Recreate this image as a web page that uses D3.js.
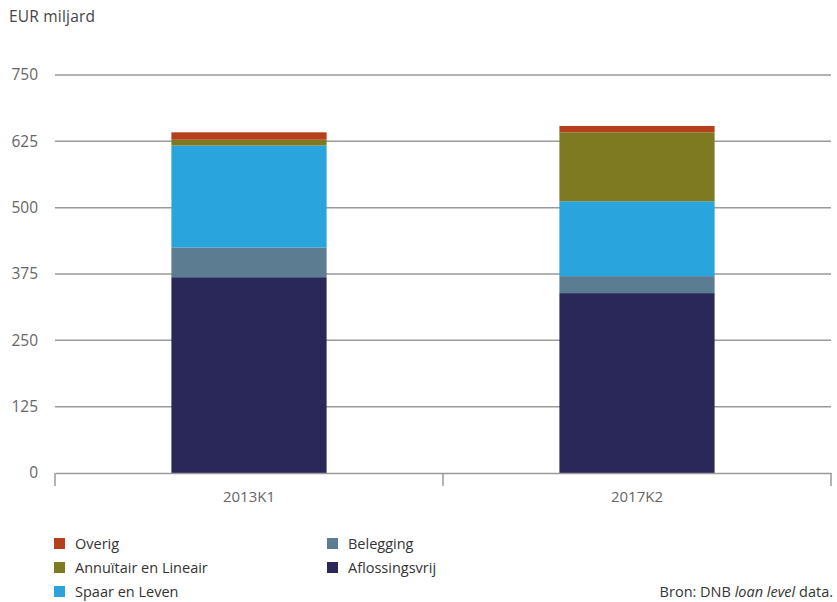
<!DOCTYPE html>
<html>
<head>
<meta charset="utf-8">
<script src="https://cdn.jsdelivr.net/npm/d3@7"></script>
<style>
  body { margin: 0; background: #fff; }
  text { font-family: "Open Sans", "Noto Sans", sans-serif; }
</style>
</head>
<body>
<script>
'use-strict';

// categories on the x axis
let periods = ["2013K1", "2017K2"];

// series, stacked from the bottom up
let seriesNames = ["Aflossingsvrij", "Belegging", "Spaar en Leven", "Annuïtair en Lineair", "Overig"];
let aflossingsvrij = [369, 339];
let belegging = [56, 32];
let spaarLeven = [192, 141];
let annuitair = [11, 130];
let overig = [14, 12];

// y axis ticks
let yTicks = [0, 125, 250, 375, 500, 625, 750];

let colors = {
  "Overig": "#b6401c",
  "Annuïtair en Lineair": "#7e7a22",
  "Spaar en Leven": "#29a4dd",
  "Belegging": "#5b7c91",
  "Aflossingsvrij": "#2a2859"
};

// legend layout: column order as in the picture
let legendItems = [
  ["Overig", 0, 0], ["Annuïtair en Lineair", 0, 1], ["Spaar en Leven", 0, 2],
  ["Belegging", 1, 0], ["Aflossingsvrij", 1, 1]
];

let margin = { top: 75, left: 55, bottom: 129, right: 6 };
let width = 837 - margin.left - margin.right,
  height = 602 - margin.top - margin.bottom;

let svg = d3.select("body")
  .append("svg")
  .attr("width", 837)
  .attr("height", 602);

// build rows for the stack
let rows = periods.map((p, i) => ({
  period: p,
  "Aflossingsvrij": aflossingsvrij[i],
  "Belegging": belegging[i],
  "Spaar en Leven": spaarLeven[i],
  "Annuïtair en Lineair": annuitair[i],
  "Overig": overig[i]
}));
let stacked = d3.stack().keys(seriesNames)(rows);

let xScale = d3.scaleBand()
  .domain(periods)
  .range([margin.left, margin.left + width])
  .paddingInner(0.6)
  .paddingOuter(0.3);

// band edges for the category ticks
let xEdges = d3.scaleBand()
  .domain(periods)
  .range([margin.left, margin.left + width]);

let yScale = d3.scaleLinear()
  .domain([0, 750])
  .range([margin.top + height, margin.top]);

// unit label
svg.append("text")
  .attr("x", 9)
  .attr("y", 22)
  .attr("fill", "#444")
  .style("font-size", "15.5px")
  .style("letter-spacing", "0.2px")
  .text("EUR miljard");

// gridlines
svg.append("g")
  .selectAll("line")
  .data(yTicks.filter(d => d > 0))
  .enter()
  .append("line")
  .attr("x1", margin.left)
  .attr("x2", margin.left + width)
  .attr("y1", d => yScale(d))
  .attr("y2", d => yScale(d))
  .attr("stroke", "#9a9a9a")
  .attr("stroke-width", 1.5);

// y labels
svg.append("g")
  .selectAll("text")
  .data(yTicks)
  .enter()
  .append("text")
  .attr("x", 38)
  .attr("y", d => yScale(d))
  .attr("dy", "0.35em")
  .attr("text-anchor", "end")
  .attr("fill", "#666")
  .style("font-size", "15.5px")
  .text(d => d);

// bars
svg.append("g")
  .selectAll("g")
  .data(stacked)
  .enter()
  .append("g")
  .attr("fill", d => colors[d.key])
  .selectAll("rect")
  .data(d => d)
  .enter()
  .append("rect")
  .attr("x", d => xScale(d.data.period))
  .attr("width", xScale.bandwidth())
  .attr("y", d => yScale(d[1]))
  .attr("height", d => yScale(d[0]) - yScale(d[1]));

// x axis with ticks at the band edges
let xAxis = d3.axisBottom(xEdges).tickSize(0).tickPadding(18);
let axisG = svg.append("g")
  .attr("transform", "translate(0," + yScale(0) + ")")
  .call(xAxis);
axisG.select(".domain").attr("stroke", "#9a9a9a").attr("stroke-width", 1.5);
axisG.selectAll("text")
  .attr("fill", "#666")
  .style("font-size", "15px")
  .style("font-family", "'Open Sans', sans-serif");

let edges = periods.map(p => xEdges(p)).concat([margin.left + width]);
axisG.selectAll(".edge")
  .data(edges)
  .enter()
  .append("line")
  .attr("class", "edge")
  .attr("x1", d => d)
  .attr("x2", d => d)
  .attr("y1", 0)
  .attr("y2", 13)
  .attr("stroke", "#9a9a9a")
  .attr("stroke-width", 1.5);

// legend
let legend = svg.append("g")
  .selectAll("g")
  .data(legendItems)
  .enter()
  .append("g")
  .attr("transform", d => "translate(" + (54 + d[1] * 273) + "," + (544 + d[2] * 24) + ")");

legend.append("rect")
  .attr("x", 0)
  .attr("y", -6)
  .attr("width", 11)
  .attr("height", 11)
  .attr("fill", d => colors[d[0]]);

legend.append("text")
  .attr("x", 21)
  .attr("y", 0)
  .attr("dy", "0.35em")
  .attr("fill", "#333")
  .style("font-size", "14.5px")
  .text(d => d[0]);

// source
let source = svg.append("text")
  .attr("x", 833)
  .attr("y", 592)
  .attr("dy", "0.35em")
  .attr("text-anchor", "end")
  .attr("fill", "#333")
  .style("font-size", "14.5px");
source.append("tspan").text("Bron: DNB ");
source.append("tspan").style("font-style", "italic").text("loan level");
source.append("tspan").text(" data.");
</script>
</body>
</html>
